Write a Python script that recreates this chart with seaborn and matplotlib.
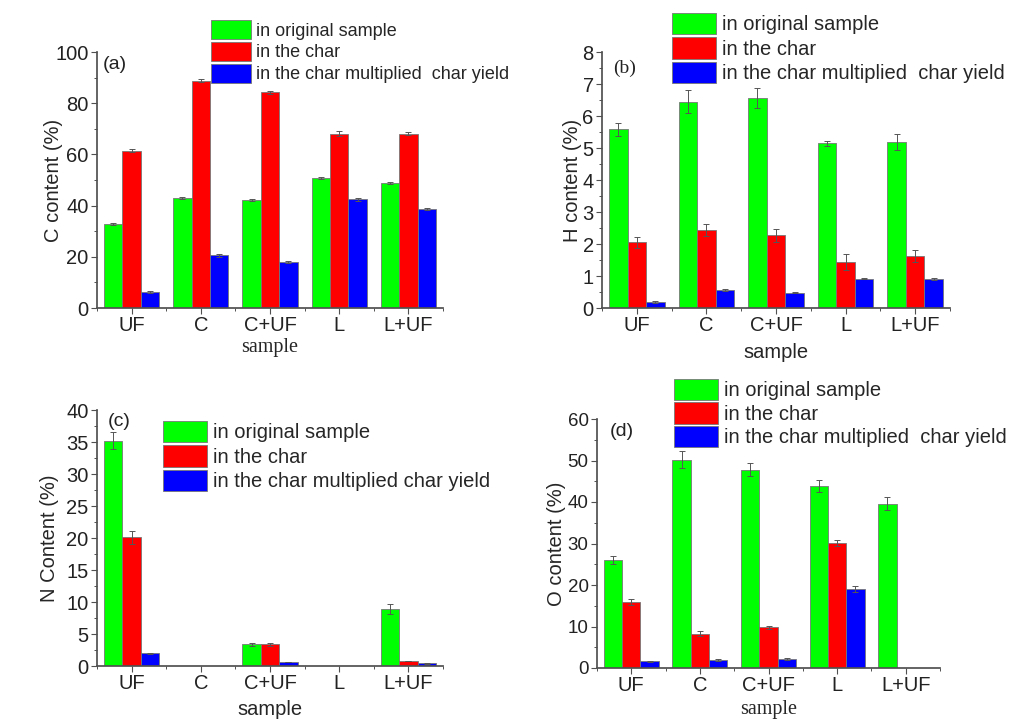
import numpy as np
import pandas as pd
import seaborn as sns
import matplotlib.pyplot as plt
from matplotlib.patches import Patch
from matplotlib.ticker import MultipleLocator, FixedLocator

# categories and series
samples = ["UF", "C", "C+UF", "L", "L+UF"]
series = ["in original sample", "in the char", "in the char multiplied  char yield"]
series_c = ["in original sample", "in the char", "in the char multiplied char yield"]
colors = ["#00ff00", "#ff0000", "#0000ff"]

# (a) C content (%)
c_orig = [32.8, 43.0, 42.2, 50.7, 48.8]
c_char = [61.5, 88.8, 84.2, 68.0, 68.0]
c_yield = [6.1, 20.6, 17.8, 42.4, 38.5]
c_orig_err = [0.5, 0.5, 0.4, 0.3, 0.3]
c_char_err = [0.6, 0.5, 0.6, 1.0, 0.6]
c_yield_err = [0.4, 0.5, 0.4, 0.6, 0.4]

# (b) H content (%)
h_orig = [5.59, 6.45, 6.56, 5.15, 5.2]
h_char = [2.05, 2.44, 2.27, 1.45, 1.63]
h_yield = [0.19, 0.56, 0.48, 0.92, 0.92]
h_orig_err = [0.2, 0.35, 0.3, 0.08, 0.25]
h_char_err = [0.17, 0.2, 0.2, 0.25, 0.18]
h_yield_err = [0.02, 0.03, 0.02, 0.02, 0.03]

# (c) N content (%)
n_orig = [35.2, 0.0, 3.4, 0.0, 8.85]
n_char = [20.1, 0.0, 3.4, 0.0, 0.8]
n_yield = [2.0, 0.0, 0.6, 0.0, 0.4]
n_orig_err = [1.3, 0.0, 0.2, 0.0, 0.8]
n_char_err = [1.0, 0.0, 0.2, 0.0, 0.05]
n_yield_err = [0.1, 0.0, 0.05, 0.0, 0.05]

# (d) O content (%)
o_orig = [26.1, 50.2, 47.8, 43.9, 39.6]
o_char = [15.9, 8.3, 9.8, 30.1, 0.0]
o_yield = [1.6, 2.0, 2.2, 19.0, 0.0]
o_orig_err = [1.0, 2.0, 1.5, 1.5, 1.5]
o_char_err = [0.7, 0.5, 0.4, 0.8, 0.0]
o_yield_err = [0.2, 0.2, 0.2, 0.8, 0.0]

sns.set_theme(style="ticks")
plt.rcParams['font.family'] = ['Liberation Sans', 'DejaVu Sans']
plt.rcParams['axes.edgecolor'] = '#505050'
plt.rcParams['xtick.color'] = '#505050'
plt.rcParams['ytick.color'] = '#505050'
plt.rcParams['xtick.labelcolor'] = '#222222'
plt.rcParams['ytick.labelcolor'] = '#222222'

fig = plt.figure(figsize=(10.14, 7.19), dpi=100)
W, H = 1014, 719


def add_ax(left, top, right, bottom):
    return fig.add_axes([left / W, 1 - bottom / H, (right - left) / W, (bottom - top) / H])


def panel(ax, vals, errs, labels, ymax, major, ylabel, tag, tag_xy, tag_font,
          xlab_font, ylab_x, xlab_y, leg_xy, leg_size, leg_space, tick_size):
    df = pd.DataFrame({
        "sample": np.tile(samples, 3),
        "series": np.repeat(labels, len(samples)),
        "value": np.concatenate(vals),
    })
    sns.barplot(data=df, x="sample", y="value", hue="series", hue_order=labels,
                palette=colors, saturation=1, errorbar=None, width=0.8,
                edgecolor="#777777", linewidth=0.6, legend=False, ax=ax)
    # error bars on top of each drawn bar
    for cont, err in zip(ax.containers, errs):
        xs = np.array([p.get_x() + p.get_width() / 2 for p in cont])
        hs = np.array([p.get_height() for p in cont])
        e = np.array(err)
        keep = hs > 0
        ax.errorbar(xs[keep], hs[keep], yerr=e[keep], fmt="none", ecolor="#555555",
                    elinewidth=0.7, capsize=2.5, capthick=0.7)
    ax.set_ylim(0, ymax)
    ax.set_xlim(-0.5, len(samples) - 0.5)
    ax.yaxis.set_major_locator(MultipleLocator(major))
    ax.yaxis.set_minor_locator(MultipleLocator(major / 2))
    ax.xaxis.set_minor_locator(FixedLocator(np.arange(-0.5, len(samples), 1.0)))
    ax.tick_params(which="major", length=4, width=0.8, pad=2)
    ax.tick_params(axis="x", labelsize=14.5)
    ax.tick_params(axis="y", labelsize=tick_size)
    ax.tick_params(which="minor", length=2.5, width=0.7)
    ax.set_ylabel(ylabel, fontsize=14.5)
    ax.yaxis.set_label_coords(ylab_x, 0.5)
    ax.set_xlabel("sample", fontsize=14.5, family=xlab_font)
    ax.xaxis.set_label_coords(0.5, xlab_y)
    ax.text(tag_xy[0], tag_xy[1], tag, transform=ax.transAxes, va="top", ha="left",
            fontsize=14, family=tag_font, color="#222222")
    sns.despine(ax=ax)
    handles = [Patch(facecolor=c, edgecolor="#777777", linewidth=0.6, label=l)
               for c, l in zip(colors, labels)]
    ax.legend(handles=handles, loc="upper left", bbox_to_anchor=leg_xy,
              bbox_transform=fig.transFigure, frameon=False, fontsize=leg_size,
              handlelength=2.2, handleheight=1.25, labelspacing=leg_space,
              handletextpad=0.3, borderpad=0, borderaxespad=0)


ax_a = add_ax(97, 52, 443, 308)
panel(ax_a, [c_orig, c_char, c_yield], [c_orig_err, c_char_err, c_yield_err], series,
      100, 20, "C content (%)", "(a)", (0.017, 0.985), "Liberation Sans",
      "Liberation Serif", -0.098, -0.117, (211 / W, 1 - 20 / H), 13, 0.12, 14.5)

ax_b = add_ax(602, 52, 950, 308)
panel(ax_b, [h_orig, h_char, h_yield], [h_orig_err, h_char_err, h_yield_err], series,
      8, 1, "H content (%)", "(b)", (0.032, 0.97), "Liberation Serif",
      "Liberation Sans", -0.057, -0.137, (672 / W, 1 - 13 / H), 14.5, 0.15, 14.5)

ax_c = add_ax(97, 410, 443, 666)
panel(ax_c, [n_orig, n_char, n_yield], [n_orig_err, n_char_err, n_yield_err], series_c,
      40, 5, "N Content (%)", "(c)", (0.03, 0.99), "Liberation Sans",
      "Liberation Sans", -0.11, -0.133, (163 / W, 1 - 421 / H), 14.5, 0.15, 14.5)

ax_d = add_ax(597, 419, 940, 668)
panel(ax_d, [o_orig, o_char, o_yield], [o_orig_err, o_char_err, o_yield_err], series,
      60, 10, "O content (%)", "(d)", (0.038, 0.984), "Liberation Sans",
      "Liberation Serif", -0.09, -0.128, (674 / W, 1 - 379 / H), 14.5, 0.1, 13.5)

fig.savefig("out.png", dpi=100)
